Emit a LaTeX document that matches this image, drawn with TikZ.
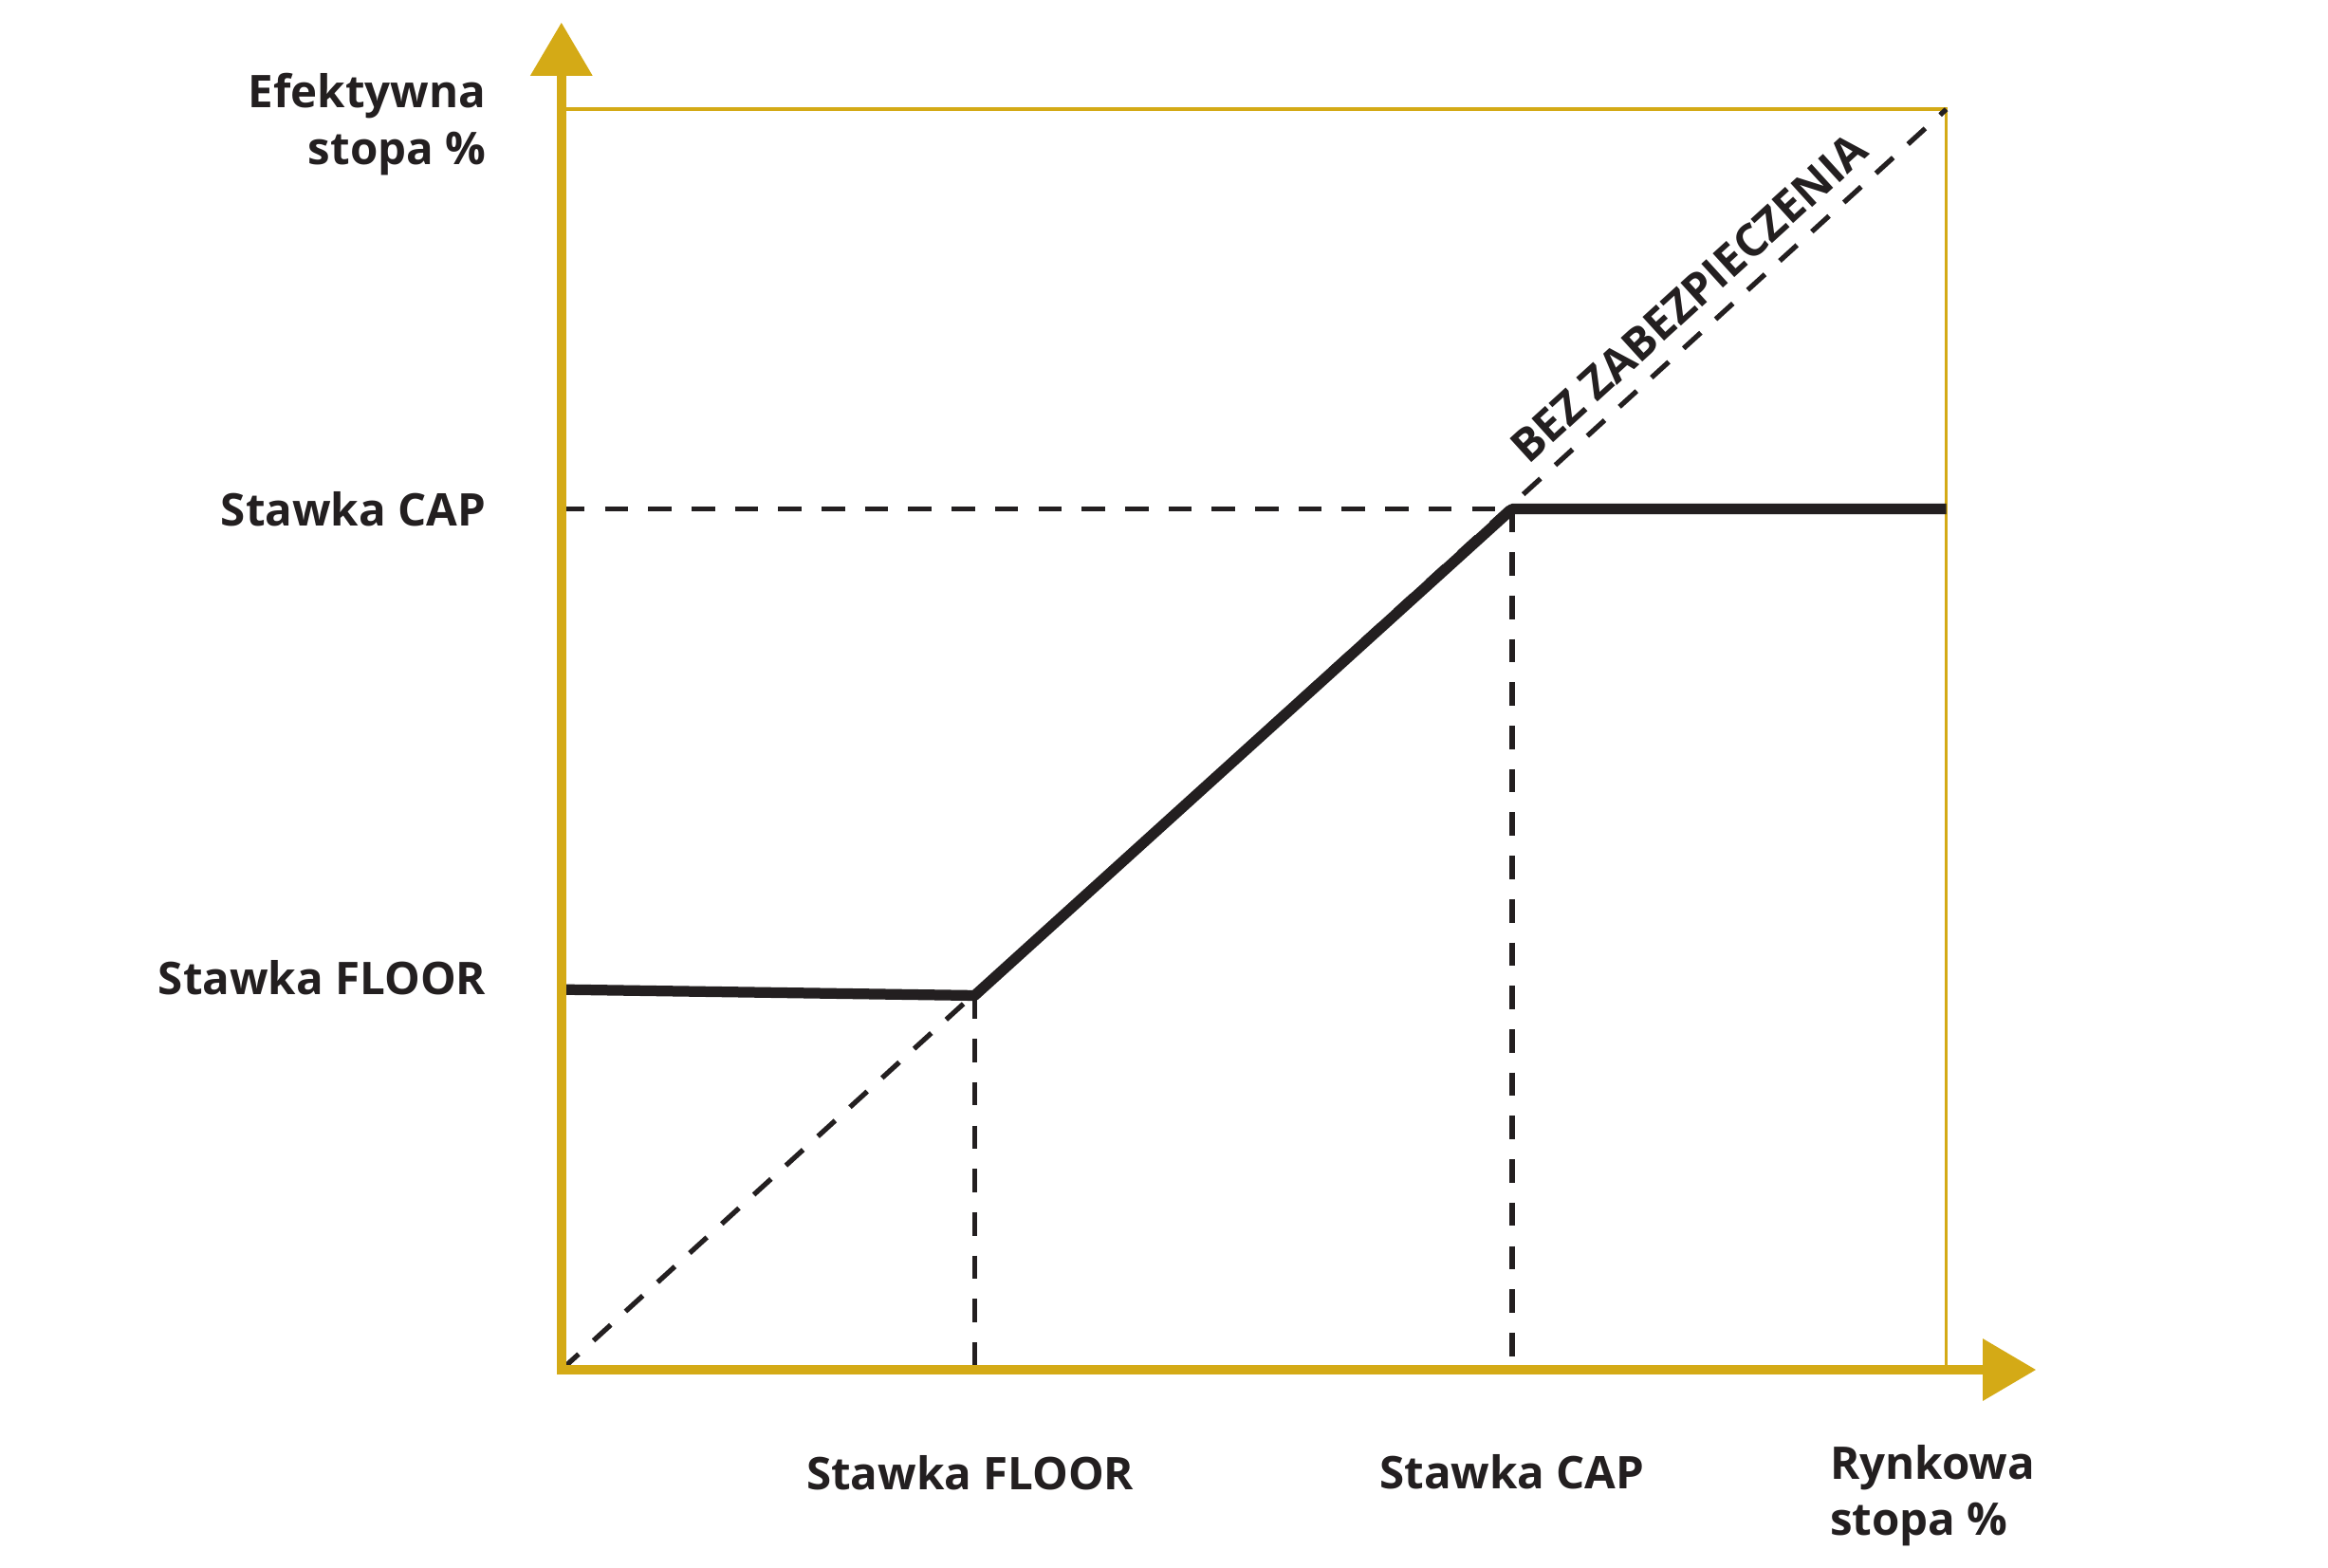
\documentclass[tikz,border=0pt]{standalone}
\usepackage{fontspec}
\setmainfont{Open Sans}
\usetikzlibrary{arrows.meta}
\definecolor{gold}{HTML}{D4AA16}
\definecolor{ink}{HTML}{231F20}
\begin{document}
\begin{tikzpicture}[x=0.015781cm,y=-0.015781cm,
  lab/.style={font=\fontsize{13.5}{17}\selectfont\bfseries,text=ink,inner sep=0pt},
  axis/.style={gold,line width=2.7pt,-{Triangle[length=16pt,width=18pt]}},
  dsh/.style={ink,line width=1.5pt,dash pattern=on 7pt off 6pt},
  curve/.style={ink,line width=3.2pt,line join=round}]
\useasboundingbox (0,0) rectangle (1555,1047);
\coordinate (O) at (375,915);
\coordinate (TL) at (375,73);
\coordinate (TR) at (1300,73);
\coordinate (BR) at (1300,915);
\coordinate (F) at (651,665);
\coordinate (C) at (1010,340);
\coordinate (L) at (375,661);
\coordinate (R) at (1300,340);
\coordinate (YC) at (375,340);
\coordinate (Fb) at (651,912);
\coordinate (Cb) at (1010,915);
\draw[gold,line width=1pt] (TL) -- (TR) -- (BR);
\draw[dsh] (O) -- (TR);
\draw[dsh] (YC) -- (C);
\draw[dsh] (F) -- (Fb);
\draw[dsh] (C) -- (Cb);
\draw[curve] (L) -- (F) -- (C) -- (R);
\draw[axis] (375,918) -- (375,15);
\draw[axis] (372,915) -- (1360,915);
\node[lab,align=right,anchor=east] (ey) at (325,83) {Efektywna\\stopa \%};
\node[lab,anchor=east] (sc) at (325,340) {Stawka CAP};
\node[lab,anchor=east] (sf) at (325,653) {Stawka FLOOR};
\node[lab] (bf) at (648,984) {Stawka FLOOR};
\node[lab] (bc) at (1010,983) {Stawka CAP};
\node[lab,align=left,anchor=west] (rx) at (1222,999) {Rynkowa\\stopa \%};
\node[lab,rotate=42.3] (bez) at (1128,199) {BEZ ZABEZPIECZENIA};
\end{tikzpicture}
\end{document}
